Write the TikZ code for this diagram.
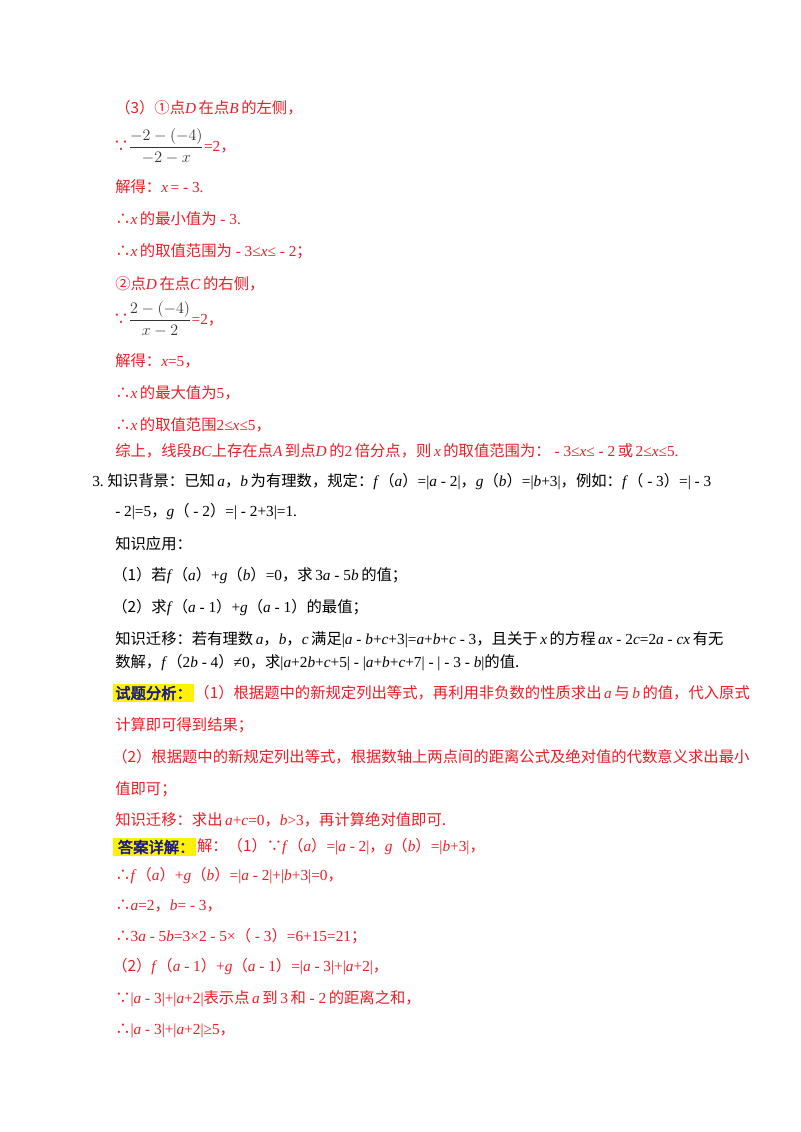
\documentclass[tikz,border=0pt]{standalone}
\usepackage{amsmath}
\usepackage{fontspec}
\setmainfont{Liberation Serif}
\newfontfamily\cjk{Noto Sans CJK SC}
\newfontfamily\cjkb[FakeBold=3]{Noto Sans CJK SC}
\newcommand\z[1]{{\cjk #1}}
\newcommand\vi[1]{\textit{#1}}
\definecolor{rd}{HTML}{EE1C25}
\definecolor{bl}{HTML}{1A1A8C}
\begin{document}
\begin{tikzpicture}[x=0.75pt,y=-0.75pt,
  ln/.style={anchor=west,inner sep=0pt,font=\fontsize{11.5}{14}\selectfont},
  r/.style={ln,text=rd},
  k/.style={ln,text=black},
  hl/.style={fill=yellow,inner sep=1.5pt,text=bl,font=\fontsize{11.5}{14}\selectfont\cjkb}]
\useasboundingbox[fill=white] (0,0) rectangle (800,1132);
\node[r] (l1) at (115,108) {\z{（3）①点}\vi{D}\,\z{在点}\vi{B}\,\z{的左侧，}};
\node[r] (l2) at (113,146) {\z{∵}\textcolor{black!80}{$\dfrac{-2-(-4)}{-2-x}$}=2\z{，}};
\node[r] (l3) at (115,187) {\z{解得：}\vi{x}\,= - 3.};
\node[r] (l4) at (115,219) {\z{∴}\vi{x}\,\z{的最小值为} - 3.};
\node[r] (l5) at (115,251) {\z{∴}\vi{x}\,\z{的取值范围为} - 3≤\vi{x}≤ - 2\z{；}};
\node[r] (l6) at (115,284) {\z{②点}\vi{D}\,\z{在点}\vi{C}\,\z{的右侧，}};
\node[r] (l7) at (113,319) {\z{∵}\textcolor{black!80}{$\dfrac{2-(-4)}{x-2}$}=2\z{，}};
\node[r] (l8) at (115,361) {\z{解得：}\vi{x}=5\z{，}};
\node[r] (l9) at (115,393) {\z{∴}\vi{x}\,\z{的最大值为}5\z{，}};
\node[r] (l10) at (115,425) {\z{∴}\vi{x}\,\z{的取值范围}2≤\vi{x}≤5\z{，}};
\node[r] (l11) at (115,451) {\z{综上，线段}\vi{BC}\z{上存在点}\vi{A}\,\z{到点}\vi{D}\,\z{的}2\,\z{倍分点，则}\,\vi{x}\,\z{的取值范围为：} - 3≤\vi{x}≤ - 2\,\z{或}\,2≤\vi{x}≤5.};
\node[k] (l12) at (92,482) {3.\ \z{知识背景：已知}\,\vi{a}\z{，}\vi{b}\,\z{为有理数，规定：}\vi{f}\z{（}\vi{a}\z{）}=|\vi{a} - 2|\z{，}\vi{g}\z{（}\vi{b}\z{）}=|\vi{b}+3|\z{，例如：}\vi{f}\z{（} - 3\z{）}=| - 3};
\node[k] (l13) at (115,512) { - 2|=5\z{，}\vi{g}\z{（} - 2\z{）}=| - 2+3|=1.};
\node[k] (l14) at (115,544) {\z{知识应用：}};
\node[k] (l15) at (112,576) {\z{（1）若}\vi{f}\z{（}\vi{a}\z{）}+\vi{g}\z{（}\vi{b}\z{）}=0\z{，求}\,3\vi{a} - 5\vi{b}\,\z{的值；}};
\node[k] (l16) at (112,608) {\z{（2）求}\vi{f}\z{（}\vi{a} - 1\z{）}+\vi{g}\z{（}\vi{a} - 1\z{）的最值；}};
\node[k] (l17) at (115,640) {\z{知识迁移：若有理数}\,\vi{a}\z{，}\vi{b}\z{，}\vi{c}\,\z{满足}|\vi{a} - \vi{b}+\vi{c}+3|=\vi{a}+\vi{b}+\vi{c} - 3\z{，且关于}\,\vi{x}\,\z{的方程}\,\vi{ax} - 2\vi{c}=2\vi{a} - \vi{cx}\,\z{有无}};
\node[k] (l18) at (115,663) {\z{数解，}\vi{f}\z{（}2\vi{b} - 4\z{）}≠0\z{，求}|\vi{a}+2\vi{b}+\vi{c}+5| - |\vi{a}+\vi{b}+\vi{c}+7| - | - 3 - \vi{b}|\z{的值.}};
\node[hl,anchor=west] (h1) at (113,693) {试题分析：};
\node[r] (l19) at (h1.east) {\z{（1）根据题中的新规定列出等式，再利用非负数的性质求出}\,\vi{a}\,\z{与}\,\vi{b}\,\z{的值，代入原式}};
\node[r] (l20) at (115,725) {\z{计算即可得到结果；}};
\node[r] (l21) at (112,757) {\z{（2）根据题中的新规定列出等式，根据数轴上两点间的距离公式及绝对值的代数意义求出最小}};
\node[r] (l22) at (115,789) {\z{值即可；}};
\node[r] (l23) at (115,820) {\z{知识迁移：求出}\,\vi{a}+\vi{c}=0\z{，}\vi{b}>3\z{，再计算绝对值即可.}};
\node[hl,anchor=west] (h2) at (113,847) {\,答案详解：};
\node[r] (l24) at (h2.east) {\z{解：（1）∵}\vi{f}\z{（}\vi{a}\z{）}=|\vi{a} - 2|\z{，}\vi{g}\z{（}\vi{b}\z{）}=|\vi{b}+3|\z{，}};
\node[r] (l25) at (115,876) {\z{∴}\vi{f}\z{（}\vi{a}\z{）}+\vi{g}\z{（}\vi{b}\z{）}=|\vi{a} - 2|+|\vi{b}+3|=0\z{，}};
\node[r] (l26) at (115,906) {\z{∴}\vi{a}=2\z{，}\vi{b}= - 3\z{，}};
\node[r] (l27) at (115,936) {\z{∴}3\vi{a} - 5\vi{b}=3×2 - 5×\z{（} - 3\z{）}=6+15=21\z{；}};
\node[r] (l28) at (112,967) {\z{（2）}\vi{f}\z{（}\vi{a} - 1\z{）}+\vi{g}\z{（}\vi{a} - 1\z{）}=|\vi{a} - 3|+|\vi{a}+2|\z{，}};
\node[r] (l29) at (115,999) {\z{∵}|\vi{a} - 3|+|\vi{a}+2|\z{表示点}\,\vi{a}\,\z{到}\,3\,\z{和} - 2\,\z{的距离之和，}};
\node[r] (l30) at (115,1031) {\z{∴}|\vi{a} - 3|+|\vi{a}+2|≥5\z{，}};
\end{tikzpicture}
\end{document}
